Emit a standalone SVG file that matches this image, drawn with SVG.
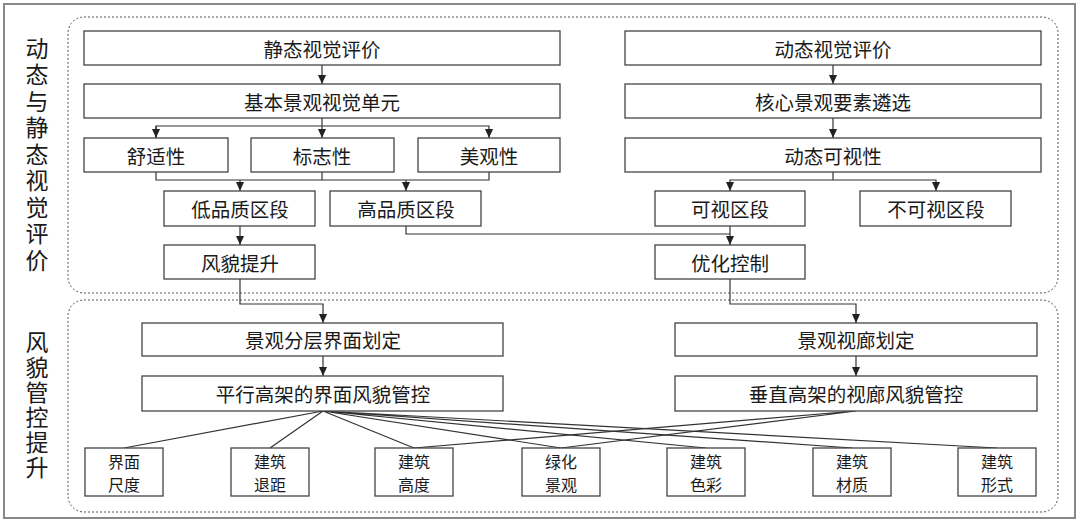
<svg xmlns="http://www.w3.org/2000/svg" width="1080" height="523" viewBox="0 0 1080 523">
<defs>
<style>
.box{fill:#fff;stroke:#444;stroke-width:1.3}
.t{font-family:"Noto Sans CJK SC","Noto Sans",sans-serif;font-size:19.5px;fill:#1a1a1a;text-anchor:middle;dominant-baseline:central}
.ts{font-family:"Noto Sans CJK SC","Noto Sans",sans-serif;font-size:16px;fill:#1a1a1a;text-anchor:middle;dominant-baseline:central}
.side{font-family:"Noto Sans CJK SC","Noto Sans",sans-serif;font-size:23px;fill:#1a1a1a;writing-mode:vertical-rl;text-anchor:middle}
.c{fill:none;stroke:#333;stroke-width:1.2}
.region{fill:none;stroke:#555;stroke-width:1;stroke-dasharray:2 2}
</style>
<marker id="ah" markerWidth="9" markerHeight="8" refX="9" refY="4" orient="auto" markerUnits="userSpaceOnUse">
<path d="M0,0 L9,4 L0,8 Z" fill="#222"/>
</marker>
</defs>
<rect x="0" y="0" width="1080" height="523" fill="#fff"/>
<rect x="4" y="4" width="1071" height="514" fill="none" stroke="#888" stroke-width="2"/>
<rect class="region" x="68" y="17" width="990" height="276" rx="16"/>
<rect class="region" x="68" y="300" width="990" height="212" rx="16"/>

<g id="side1">
<text class="side" x="37" y="156" letter-spacing="3.5">动态与静态视觉评价</text>
</g>
<g id="side2">
<text class="side" x="37" y="406" letter-spacing="2">风貌管控提升</text>
</g>

<g id="connectors">
<path class="c" d="M322,65 V84" marker-end="url(#ah)"/>
<path class="c" d="M322,118 V138" marker-end="url(#ah)"/>
<path class="c" d="M156,138 V126 H489 V138" marker-end="url(#ah)"/>
<path class="c" d="M156,126 V138" marker-end="url(#ah)"/>
<path class="c" d="M156,172 V180 H489 V172"/>
<path class="c" d="M322,172 V180"/>
<path class="c" d="M240,180 V191" marker-end="url(#ah)"/>
<path class="c" d="M406,180 V191" marker-end="url(#ah)"/>
<path class="c" d="M240,226 V245" marker-end="url(#ah)"/>
<path class="c" d="M406,226 V234 H730"/>
<path class="c" d="M833,65 V84" marker-end="url(#ah)"/>
<path class="c" d="M833,118 V138" marker-end="url(#ah)"/>
<path class="c" d="M833,172 V180"/>
<path class="c" d="M833,180 H730 V191" marker-end="url(#ah)"/>
<path class="c" d="M833,180 H936 V191" marker-end="url(#ah)"/>
<path class="c" d="M730,226 V245" marker-end="url(#ah)"/>
<path class="c" d="M240,279 V304 H323 V323" marker-end="url(#ah)"/>
<path class="c" d="M730,279 V304 H856 V323" marker-end="url(#ah)"/>
<path class="c" d="M323,356 V376" marker-end="url(#ah)"/>
<path class="c" d="M856,356 V376" marker-end="url(#ah)"/>
<path class="c" d="M323,411 L124,448 M323,411 L270,448 M323,411 L414,448 M323,411 L561,448 M323,411 L706,448 M323,411 L852,448 M323,411 L997,448"/>
<path class="c" d="M856,411 L414,448 M856,411 L561,448"/>
</g>

<g id="n1"><rect class="box" x="84" y="31" width="476" height="34"/><text class="t" x="322" y="48">静态视觉评价</text></g>
<g id="n2"><rect class="box" x="625" y="31" width="416" height="34"/><text class="t" x="833" y="48">动态视觉评价</text></g>
<g id="n3"><rect class="box" x="84" y="84" width="476" height="34"/><text class="t" x="322" y="101">基本景观视觉单元</text></g>
<g id="n4"><rect class="box" x="625" y="84" width="416" height="34"/><text class="t" x="833" y="101">核心景观要素遴选</text></g>
<g id="n5"><rect class="box" x="84" y="138" width="144" height="34"/><text class="t" x="156" y="155">舒适性</text></g>
<g id="n6"><rect class="box" x="251" y="138" width="143" height="34"/><text class="t" x="322" y="155">标志性</text></g>
<g id="n7"><rect class="box" x="418" y="138" width="142" height="34"/><text class="t" x="489" y="155">美观性</text></g>
<g id="n8"><rect class="box" x="625" y="138" width="416" height="34"/><text class="t" x="833" y="155">动态可视性</text></g>
<g id="n9"><rect class="box" x="164" y="191" width="151" height="35"/><text class="t" x="240" y="208">低品质区段</text></g>
<g id="n10"><rect class="box" x="330" y="191" width="151" height="35"/><text class="t" x="406" y="208">高品质区段</text></g>
<g id="n11"><rect class="box" x="655" y="191" width="150" height="35"/><text class="t" x="730" y="208">可视区段</text></g>
<g id="n12"><rect class="box" x="860" y="191" width="151" height="35"/><text class="t" x="936" y="208">不可视区段</text></g>
<g id="n13"><rect class="box" x="164" y="245" width="151" height="34"/><text class="t" x="240" y="262">风貌提升</text></g>
<g id="n14"><rect class="box" x="655" y="245" width="150" height="34"/><text class="t" x="730" y="262">优化控制</text></g>
<g id="n15"><rect class="box" x="142" y="323" width="361" height="33"/><text class="t" x="323" y="339">景观分层界面划定</text></g>
<g id="n16"><rect class="box" x="675" y="323" width="362" height="33"/><text class="t" x="856" y="339">景观视廊划定</text></g>
<g id="n17"><rect class="box" x="142" y="376" width="361" height="35"/><text class="t" x="323" y="393">平行高架的界面风貌管控</text></g>
<g id="n18"><rect class="box" x="675" y="376" width="362" height="35"/><text class="t" x="856" y="393">垂直高架的视廊风貌管控</text></g>
<g id="b1"><rect class="box" x="85" y="448" width="78" height="48"/><text class="ts" x="124" y="460.5">界面<tspan x="124" dy="23.5">尺度</tspan></text></g>
<g id="b2"><rect class="box" x="231" y="448" width="78" height="48"/><text class="ts" x="270" y="460.5">建筑<tspan x="270" dy="23.5">退距</tspan></text></g>
<g id="b3"><rect class="box" x="375" y="448" width="78" height="48"/><text class="ts" x="414" y="460.5">建筑<tspan x="414" dy="23.5">高度</tspan></text></g>
<g id="b4"><rect class="box" x="522" y="448" width="78" height="48"/><text class="ts" x="561" y="460.5">绿化<tspan x="561" dy="23.5">景观</tspan></text></g>
<g id="b5"><rect class="box" x="667" y="448" width="78" height="48"/><text class="ts" x="706" y="460.5">建筑<tspan x="706" dy="23.5">色彩</tspan></text></g>
<g id="b6"><rect class="box" x="813" y="448" width="78" height="48"/><text class="ts" x="852" y="460.5">建筑<tspan x="852" dy="23.5">材质</tspan></text></g>
<g id="b7"><rect class="box" x="958" y="448" width="78" height="48"/><text class="ts" x="997" y="460.5">建筑<tspan x="997" dy="23.5">形式</tspan></text></g>
</svg>
